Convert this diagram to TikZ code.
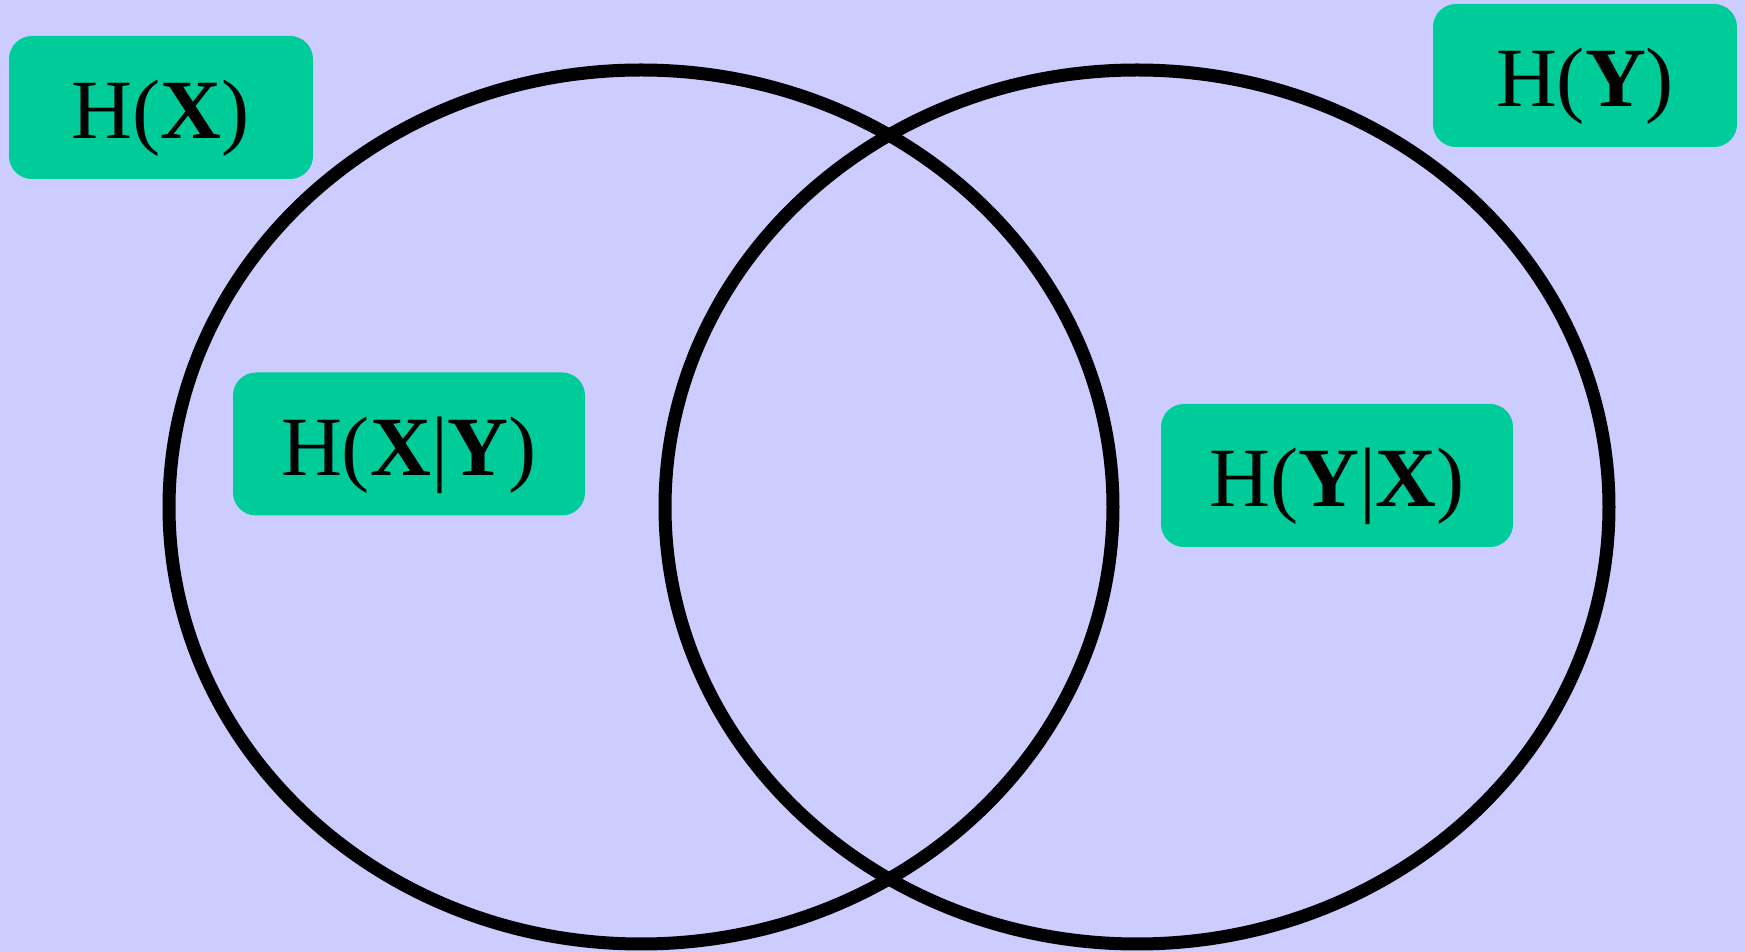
\documentclass[tikz,border=0pt]{standalone}
\usepackage{fontspec}
\setmainfont{Liberation Serif}
\definecolor{bgblue}{HTML}{CCCCFF}
\definecolor{boxgreen}{HTML}{00CC99}
\begin{document}
\begin{tikzpicture}[line join=round, line cap=round, font=\fontsize{24}{28}\selectfont,
	entbox/.style={fill=boxgreen, rounded corners=0.23cm, minimum height=1.43cm, inner sep=0pt,
		text height=0.7cm, text depth=0.07cm},
	setline/.style={line width=0.13cm}]
	\def\rx{4.72} \def\ry{4.37} % radii
	\def\W{17.45} \def\H{9.52}
	\fill[bgblue] (0,0) rectangle (\W,\H);
	\useasboundingbox (0,0) rectangle (\W,\H);
	\draw[setline] (6.41,4.45) ellipse [x radius=\rx, y radius=\ry];
	\draw[setline] (11.37,4.45) ellipse [x radius=\rx, y radius=\ry];
	\node[entbox, minimum width=3.04cm] (hx) at (1.61,8.445) {H(\textbf{X})};
	\node[entbox, minimum width=3.04cm] (hy) at (15.85,8.765) {H(\textbf{Y})};
	\node[entbox, minimum width=3.52cm] (hxy) at (4.09,5.08) {H(\textbf{X}|\textbf{Y})};
	\node[entbox, minimum width=3.52cm] (hyx) at (13.37,4.765) {H(\textbf{Y}|\textbf{X})};
\end{tikzpicture}
\end{document}
